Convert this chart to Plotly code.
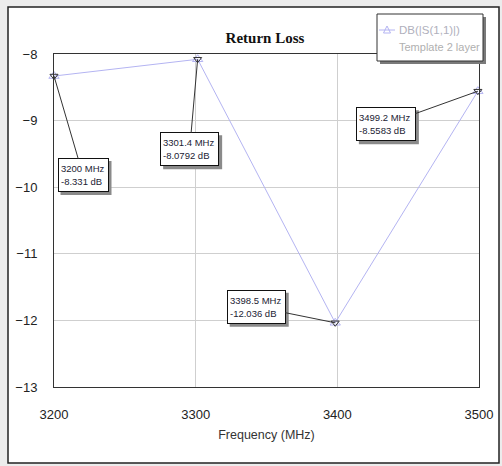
import plotly.graph_objects as go

# ---- data ----
freq_mhz = [3200, 3301.4, 3398.5, 3499.2]
s11_db = [-8.331, -8.0792, -12.036, -8.5583]
x_ticks = [3200, 3300, 3400, 3500]
y_ticks = [-13, -12, -11, -10, -9, -8]
trace_name = "DB(|S(1,1)|)"
trace_sub = "Template 2 layer"

# marker-label box layout (pixels): offset of box centre from the point, text-area width
label_ax = [29, -8, -79, -92]
label_ay = [99, 90, -16, 33]
label_w = [45, 53, 53, 54]
LABEL_H = 28
PAD = 2

W, H = 502, 466
L, R, T, B = 54, 23, 54, 79
PW, PH = W - L - R, H - T - B


def px(x):
    return (x - L) / PW


def py(y):
    return (H - B - y) / PH


SANS = "Liberation Sans, Arial, sans-serif"
LINE_COL = "#b4b4f2"

fig = go.Figure()
fig.add_trace(go.Scatter(
    x=freq_mhz, y=s11_db, mode="lines+markers", name=trace_name,
    line=dict(color=LINE_COL, width=1),
    marker=dict(symbol="triangle-up-open", size=9, color=LINE_COL, line=dict(width=1)),
    cliponaxis=False, showlegend=False,
))
fig.add_trace(go.Scatter(
    x=freq_mhz, y=s11_db, mode="markers", showlegend=False,
    marker=dict(symbol="triangle-down-open", size=7, color="#333333", line=dict(width=1)),
    cliponaxis=False, hoverinfo="skip",
))

shapes = [
    # outer white frame
    dict(type="rect", xref="paper", yref="paper", layer="below",
         x0=px(8), x1=px(499), y0=py(463), y1=py(7),
         fillcolor="white", line=dict(color="#222222", width=1.5)),
    # legend shadow and box
    dict(type="rect", xref="paper", yref="paper",
         x0=px(380), x1=px(486), y0=py(64), y1=py(17),
         fillcolor="#7a7a7a", line=dict(width=0)),
    dict(type="rect", xref="paper", yref="paper",
         x0=px(377), x1=px(483), y0=py(61), y1=py(14),
         fillcolor="white", line=dict(color="#333333", width=1)),
    dict(type="line", xref="paper", yref="paper",
         x0=px(379), x1=px(395), y0=py(30), y1=py(30),
         line=dict(color=LINE_COL, width=1)),
    dict(type="path", xref="paper", yref="paper",
         path=f"M {px(383.5)} {py(33)} L {px(390.5)} {py(33)} L {px(387)} {py(26)} Z",
         line=dict(color=LINE_COL, width=1)),
]

annotations = [
    dict(xref="paper", yref="paper", x=px(397), y=py(30), xanchor="left", yanchor="middle",
         text=trace_name, showarrow=False,
         font=dict(family=SANS, size=11.5, color="#b0b0bc")),
    dict(xref="paper", yref="paper", x=px(397), y=py(47), xanchor="left", yanchor="middle",
         text=trace_sub, showarrow=False,
         font=dict(family=SANS, size=11, color="#b0b0b0")),
]

for f, v, ax, ay, w in zip(freq_mhz, s11_db, label_ax, label_ay, label_w):
    txt = f"{f:g} MHz<br>{v:g} dB"
    bw = w + 2 * PAD + 2
    bh = LABEL_H + 2 * PAD + 2
    # drop shadow behind the label box
    shapes.append(dict(
        type="rect", xref="x", yref="y", xsizemode="pixel", ysizemode="pixel",
        xanchor=f, yanchor=v,
        x0=ax + 3 - bw / 2, x1=ax + 3 + bw / 2,
        y0=-ay - 3 - bh / 2, y1=-ay - 3 + bh / 2,
        fillcolor="#8a8a8a", line=dict(width=0),
    ))
    annotations.append(dict(
        x=f, y=v, xref="x", yref="y", text=txt, showarrow=True, ax=ax, ay=ay,
        arrowhead=0, arrowwidth=1, arrowcolor="#333333", align="left",
        width=w, height=LABEL_H, valign="middle",
        bgcolor="white", bordercolor="#111111", borderwidth=1, borderpad=PAD,
        font=dict(family=SANS, size=9.5, color="#222233"),
    ))

fig.update_layout(
    width=W, height=H,
    margin=dict(l=L, r=R, t=T, b=B, autoexpand=False),
    paper_bgcolor="#ececec", plot_bgcolor="white",
    title=dict(text="<b>Return Loss</b>", x=265 / W, xanchor="center",
               y=1 - 38 / H, yanchor="middle",
               font=dict(family="Liberation Serif, Times New Roman, serif", size=15, color="#111111")),
    showlegend=False,
    shapes=shapes,
    annotations=annotations,
    xaxis=dict(range=[3200, 3500], tickvals=x_ticks, showgrid=True, gridcolor="#cfcfcf", gridwidth=1,
               showline=True, linecolor="#333333", linewidth=1, mirror=True, zeroline=False,
               ticks="", ticklabelstandoff=15,
               tickfont=dict(family=SANS, size=13, color="#222222"),
               title=dict(text="Frequency (MHz)", standoff=9,
                          font=dict(family=SANS, size=12.5, color="#333333"))),
    yaxis=dict(range=[-13, -8], tickvals=y_ticks, showgrid=True, gridcolor="#cfcfcf", gridwidth=1,
               showline=True, linecolor="#333333", linewidth=1, mirror=True, zeroline=False,
               ticks="", ticklabelstandoff=13,
               tickfont=dict(family=SANS, size=13, color="#222222")),
)

fig.write_html(
    "out.html",
    config={"displayModeBar": False},
    post_script="document.body.style.margin='0';document.body.style.background='#ececec';",
)
